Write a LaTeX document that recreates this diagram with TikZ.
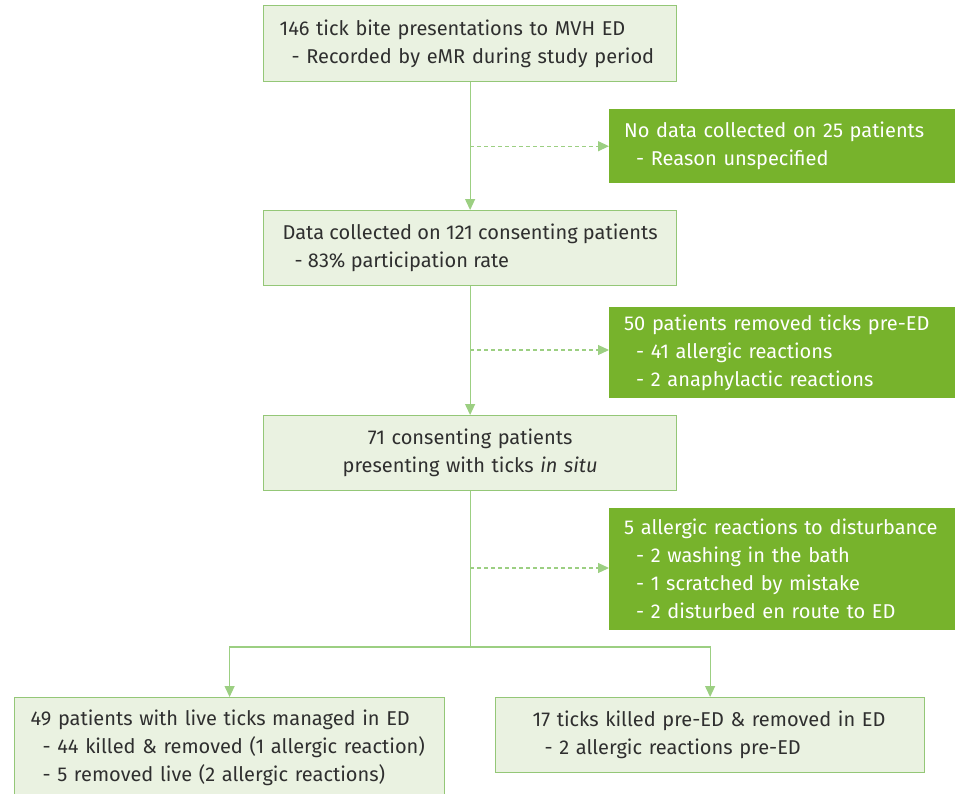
\documentclass[tikz,border=0pt]{standalone}
\usepackage{fontspec}
\setmainfont{Fira Sans}
\usepackage{xcolor}
\usetikzlibrary{arrows.meta,positioning,calc}
\definecolor{boxfill}{HTML}{EAF2E1}
\definecolor{boxline}{HTML}{94C777}
\definecolor{linkline}{HTML}{9CCF82}
\definecolor{exitfill}{HTML}{77B32C}
\definecolor{txt}{HTML}{2F2F2F}
\newcommand{\ind}{\hspace*{0.6em}}

\begin{document}
\begin{tikzpicture}[x = 1pt, y = -1pt,
  font = \fontsize{20}{28}\selectfont,
  stage/.style = {draw = boxline, line width = 1.2pt, fill = boxfill, text = txt,
    anchor = north west, inner xsep = 16pt, inner ysep = 0pt, align = left},
  exitbox/.style = {fill = exitfill, text = white, anchor = north west,
    inner xsep = 15pt, inner ysep = 0pt, align = left,
    text width = 316pt, minimum width = 346pt},
  flow/.style = {draw = linkline, line width = 1.2pt,
    -{Triangle[length = 11pt, width = 10pt]}},
  drop/.style = {flow, dash pattern = on 4pt off 3pt}]
\useasboundingbox (0,0) rectangle (959,793);

\node[stage, text width = 381pt, minimum width = 413pt, minimum height = 76pt] (start) at (263,5)
  {146 tick bite presentations to MVH ED\\\ind- Recorded by eMR during study period};
\node[stage, inner xsep = 0pt, minimum width = 413pt, minimum height = 75pt] (data) at (263,210)
  {Data collected on 121 consenting patients\\\ind- 83\% participation rate};
\node[stage, align = center, text width = 381pt, minimum width = 413pt, minimum height = 75pt] (insitu) at (263,415)
  {71 consenting patients\\presenting with ticks \textit{in situ}};

\node[exitbox, minimum height = 74pt] (nodata) at (609,109)
  {No data collected on 25 patients\\\ind- Reason unspecified};
\node[exitbox, minimum height = 91pt] (preed) at (609,307)
  {50 patients removed ticks pre-ED\\\ind- 41 allergic reactions\\\ind- 2 anaphylactic reactions};
\node[exitbox, minimum height = 122pt] (disturb) at (609,508)
  {5 allergic reactions to disturbance\\\ind- 2 washing in the bath\\\ind- 1 scratched by mistake\\\ind- 2 disturbed en route to ED};

\node[stage, text width = 398pt, minimum width = 430pt, minimum height = 100pt] (live) at (14,697)
  {49 patients with live ticks managed in ED\\\ind- 44 killed \& removed (1 allergic reaction)\\\ind- 5 removed live (2 allergic reactions)};
\node[stage, inner xsep = 37pt, text width = 355pt, minimum width = 429pt, minimum height = 75pt] (killed) at (495,697)
  {17 ticks killed pre-ED \& removed in ED\\\ind- 2 allergic reactions pre-ED};

% main flow
\draw[flow] (start) -- (data);
\draw[flow] (data) -- (insitu);
\coordinate (split) at (insitu.south |- 0,647);
\draw[draw = linkline, line width = 1.2pt] (insitu) -- (split);
\draw[flow] (split) -| (live);
\draw[flow] (split) -| (killed);

% exclusions
\coordinate (out1) at (start.south |- nodata.west);
\coordinate (out2) at (data.south |- 0,350);
\coordinate (out3) at (insitu.south |- 0,568);
\draw[drop] (out1) -- (nodata);
\draw[drop] (out2) -- (out2 -| preed.west);
\draw[drop] (out3) -- (out3 -| disturb.west);
\end{tikzpicture}
\end{document}
